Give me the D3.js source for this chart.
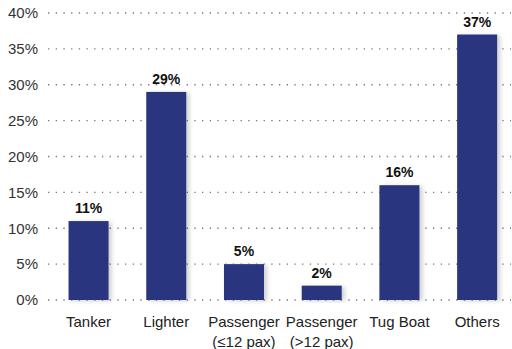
<!DOCTYPE html>
<html><head><meta charset="utf-8">
<script src="https://cdn.jsdelivr.net/npm/d3@7"></script>
<style>body{margin:0;background:#fff}svg{display:block}</style>
</head><body>
<script>
const categories = [["Tanker"],["Lighter"],["Passenger","(≤12 pax)"],["Passenger","(>12 pax)"],["Tug Boat"],["Others"]];
const values = [11, 29, 5, 2, 16, 37];
const yTicks = [0,5,10,15,20,25,30,35,40];

const W = 512, H = 349;
const svg = d3.select("body").append("svg").attr("width", W).attr("height", H);
const defs = svg.append("defs");
const f = defs.append("filter").attr("id","sh").attr("x","-20%").attr("y","-20%").attr("width","160%").attr("height","140%");
f.append("feDropShadow").attr("dx",3).attr("dy",1).attr("stdDeviation",2).attr("flood-color","#000").attr("flood-opacity",0.18);

const y = d3.scaleLinear().domain([0,40]).range([300,13]);
const x = d3.scaleBand().domain(d3.range(categories.length)).range([49.7,516]).paddingInner(0.485).paddingOuter(0.2425);

const grid = svg.append("g");
yTicks.forEach(t => {
  grid.append("line").attr("x1",48).attr("x2",511).attr("y1",y(t)).attr("y2",y(t))
    .attr("stroke","#777").attr("stroke-width",1.3).attr("stroke-dasharray","1.3,6.4").attr("stroke-linecap","butt");
});

const yAxis = d3.axisLeft(y).tickValues(yTicks).tickFormat(d => d + "%").tickSize(0).tickPadding(0);
const ga = svg.append("g").attr("transform","translate(38,0)").call(yAxis);
ga.select(".domain").remove();
ga.selectAll("text").attr("font-family","Liberation Sans, Arial, sans-serif").attr("font-size",15).attr("fill","#333");

svg.append("g").selectAll("rect").data(values).join("rect")
  .attr("x",(d,i)=>x(i)).attr("width",x.bandwidth())
  .attr("y",d=>y(d)).attr("height",d=>y(0)-y(d))
  .attr("fill","#2a3580").attr("filter","url(#sh)");

svg.append("g").selectAll("text").data(values).join("text")
  .attr("x",(d,i)=>x(i)+x.bandwidth()/2).attr("y",d=>y(d)-8)
  .attr("text-anchor","middle").attr("font-family","Liberation Sans, Arial, sans-serif")
  .attr("font-weight","bold").attr("font-size",14).attr("fill","#111")
  .text(d=>d+"%");

const xl = svg.append("g");
categories.forEach((c,i) => {
  c.forEach((line,j) => {
    xl.append("text").attr("x",x(i)+x.bandwidth()/2).attr("y",327+j*20)
      .attr("text-anchor","middle").attr("font-family","Liberation Sans, Arial, sans-serif")
      .attr("font-size",15).attr("fill","#222").text(line);
  });
});
</script>
</body></html>
